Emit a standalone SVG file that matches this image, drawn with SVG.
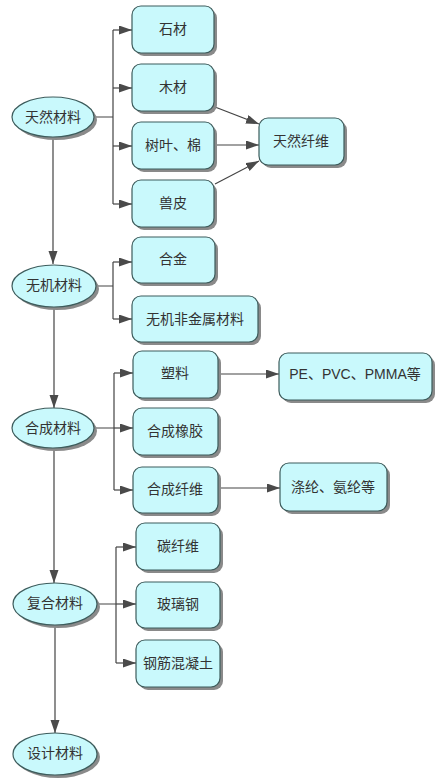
<svg xmlns="http://www.w3.org/2000/svg" width="440" height="784" viewBox="0 0 440 784">
<defs>
<style>
.bx{fill:#c9f9fc;stroke:#3d5c5c;stroke-width:1.2}
.sh{fill:#8a8a8a}
.t{font-family:"Liberation Sans","Noto Sans CJK SC",sans-serif;font-size:14px;fill:#333;text-anchor:middle;dominant-baseline:central}
.ln{fill:none;stroke:#444;stroke-width:1.2}
</style>
<marker id="ah" markerUnits="userSpaceOnUse" markerWidth="14" markerHeight="10" refX="13" refY="4.5" orient="auto">
<path d="M0,0 L13,4.5 L0,9 z" fill="#4a4a4a"/>
</marker>
</defs>
<rect width="440" height="784" fill="#fff"/>

<g id="connectors">
<path class="ln" d="M53,138 V264" marker-end="url(#ah)"/>
<path class="ln" d="M54,307 V408" marker-end="url(#ah)"/>
<path class="ln" d="M54,448 V583" marker-end="url(#ah)"/>
<path class="ln" d="M55,626 V733" marker-end="url(#ah)"/>

<path class="ln" d="M94,117 H113 M113,30 V204"/>
<path class="ln" d="M113,30 H132" marker-end="url(#ah)"/>
<path class="ln" d="M113,88 H132" marker-end="url(#ah)"/>
<path class="ln" d="M113,146 H132" marker-end="url(#ah)"/>
<path class="ln" d="M113,204 H132" marker-end="url(#ah)"/>

<path class="ln" d="M215,107 L259,124" marker-end="url(#ah)"/>
<path class="ln" d="M214,145 H259" marker-end="url(#ah)"/>
<path class="ln" d="M215,184 L259,161" marker-end="url(#ah)"/>

<path class="ln" d="M97,286 H113 M113,262 V319"/>
<path class="ln" d="M113,262 H132" marker-end="url(#ah)"/>
<path class="ln" d="M113,319 H132" marker-end="url(#ah)"/>

<path class="ln" d="M95,428 H114 M114,373 V490"/>
<path class="ln" d="M114,373 H133" marker-end="url(#ah)"/>
<path class="ln" d="M114,428 H133" marker-end="url(#ah)"/>
<path class="ln" d="M114,490 H133" marker-end="url(#ah)"/>
<path class="ln" d="M218,374 H279" marker-end="url(#ah)"/>
<path class="ln" d="M218,488 H280" marker-end="url(#ah)"/>

<path class="ln" d="M97,604 H116 M116,547 V663"/>
<path class="ln" d="M116,547 H136" marker-end="url(#ah)"/>
<path class="ln" d="M116,604 H136" marker-end="url(#ah)"/>
<path class="ln" d="M116,663 H136" marker-end="url(#ah)"/>
</g>

<g id="n-tianran">
<ellipse class="sh" cx="56" cy="120" rx="41" ry="20"/>
<ellipse class="bx" cx="53" cy="117" rx="41" ry="20"/>
<text class="t" x="53" y="117">天然材料</text>
</g>
<g id="n-shicai">
<rect class="sh" x="135" y="9" width="82" height="47" rx="9"/>
<rect class="bx" x="132" y="6" width="82" height="47" rx="9"/>
<text class="t" x="173" y="29">石材</text>
</g>
<g id="n-mucai">
<rect class="sh" x="135" y="67" width="82" height="47" rx="9"/>
<rect class="bx" x="132" y="64" width="82" height="47" rx="9"/>
<text class="t" x="173" y="87">木材</text>
</g>
<g id="n-shuye">
<rect class="sh" x="135" y="125" width="82" height="47" rx="9"/>
<rect class="bx" x="132" y="122" width="82" height="47" rx="9"/>
<text class="t" x="173" y="145">树叶、棉</text>
</g>
<g id="n-shoupi">
<rect class="sh" x="135" y="183" width="82" height="47" rx="9"/>
<rect class="bx" x="132" y="180" width="82" height="47" rx="9"/>
<text class="t" x="173" y="203">兽皮</text>
</g>
<g id="n-tianranxianwei">
<rect class="sh" x="262" y="121" width="85" height="47" rx="9"/>
<rect class="bx" x="259" y="118" width="85" height="47" rx="9"/>
<text class="t" x="301" y="141">天然纤维</text>
</g>

<g id="n-wuji">
<ellipse class="sh" cx="57" cy="289" rx="42" ry="21"/>
<ellipse class="bx" cx="54" cy="286" rx="42" ry="21"/>
<text class="t" x="54" y="285">无机材料</text>
</g>
<g id="n-hejin">
<rect class="sh" x="135" y="240" width="83" height="46" rx="9"/>
<rect class="bx" x="132" y="237" width="83" height="46" rx="9"/>
<text class="t" x="173" y="259">合金</text>
</g>
<g id="n-wujifeijinshu">
<rect class="sh" x="135" y="299" width="126" height="46" rx="9"/>
<rect class="bx" x="132" y="296" width="126" height="46" rx="9"/>
<text class="t" x="195" y="319">无机非金属材料</text>
</g>

<g id="n-hecheng">
<ellipse class="sh" cx="56" cy="431" rx="41" ry="20"/>
<ellipse class="bx" cx="53" cy="428" rx="41" ry="20"/>
<text class="t" x="53" y="428">合成材料</text>
</g>
<g id="n-suliao">
<rect class="sh" x="136" y="354" width="85" height="47" rx="9"/>
<rect class="bx" x="133" y="351" width="85" height="47" rx="9"/>
<text class="t" x="175" y="373">塑料</text>
</g>
<g id="n-xiangjiao">
<rect class="sh" x="136" y="411" width="85" height="47" rx="9"/>
<rect class="bx" x="133" y="408" width="85" height="47" rx="9"/>
<text class="t" x="175" y="431">合成橡胶</text>
</g>
<g id="n-hechengxianwei">
<rect class="sh" x="136" y="470" width="85" height="46" rx="9"/>
<rect class="bx" x="133" y="467" width="85" height="46" rx="9"/>
<text class="t" x="175" y="489">合成纤维</text>
</g>
<g id="n-pe">
<rect class="sh" x="282" y="356" width="153" height="47" rx="9"/>
<rect class="bx" x="279" y="353" width="153" height="47" rx="9"/>
<text class="t" x="355" y="374">PE、PVC、PMMA等</text>
</g>
<g id="n-dilun">
<rect class="sh" x="283" y="466" width="107" height="48" rx="9"/>
<rect class="bx" x="280" y="463" width="107" height="48" rx="9"/>
<text class="t" x="333" y="487">涤纶、氨纶等</text>
</g>

<g id="n-fuhe">
<ellipse class="sh" cx="58" cy="607" rx="42" ry="21"/>
<ellipse class="bx" cx="55" cy="604" rx="42" ry="21"/>
<text class="t" x="55" y="603">复合材料</text>
</g>
<g id="n-tanxianwei">
<rect class="sh" x="139" y="526" width="84" height="47" rx="9"/>
<rect class="bx" x="136" y="523" width="84" height="47" rx="9"/>
<text class="t" x="178" y="546">碳纤维</text>
</g>
<g id="n-boligang">
<rect class="sh" x="139" y="585" width="84" height="46" rx="9"/>
<rect class="bx" x="136" y="582" width="84" height="46" rx="9"/>
<text class="t" x="178" y="604">玻璃钢</text>
</g>
<g id="n-gangjin">
<rect class="sh" x="139" y="643" width="84" height="47" rx="9"/>
<rect class="bx" x="136" y="640" width="84" height="47" rx="9"/>
<text class="t" x="178" y="663">钢筋混凝土</text>
</g>

<g id="n-sheji">
<ellipse class="sh" cx="58" cy="757" rx="42" ry="21"/>
<ellipse class="bx" cx="55" cy="754" rx="42" ry="21"/>
<text class="t" x="55" y="753">设计材料</text>
</g>
</svg>
